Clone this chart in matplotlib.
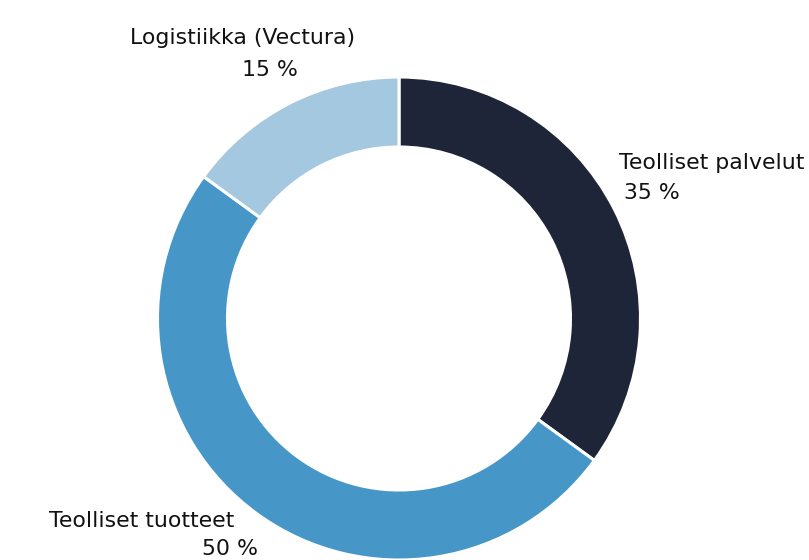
import matplotlib
matplotlib.use("Agg")
import matplotlib.pyplot as plt

categories = ["Teolliset palvelut", "Teolliset tuotteet", "Logistiikka (Vectura)"]
shares = [35, 50, 15]
share_labels = ["35 %", "50 %", "15 %"]
colors = ["#1f2539", "#4796c8", "#a3c8e0"]

plt.rcParams['font.family'] = ['DejaVu Sans']

fig = plt.figure(figsize=(8.09, 5.6), dpi=100)
ax = fig.add_axes([0, 0, 1, 1])

cx, cy = 399, 241.5
R = 241.5
wedges, _ = ax.pie(shares, colors=colors, startangle=90, counterclock=False,
                   center=(cx, cy), radius=R, frame=True,
                   wedgeprops=dict(width=70, edgecolor='white', linewidth=2.2))
ax.set_xlim(0, 809)
ax.set_ylim(0, 560)
ax.set_aspect('auto')
ax.axis('off')

fs = 15.8
tc = '#111111'
# Teolliset palvelut
ax.text(619, 560 - 163, categories[0], fontsize=fs, color=tc, ha='left', va='center')
ax.text(624, 560 - 193, share_labels[0], fontsize=fs, color=tc, ha='left', va='center')
# Teolliset tuotteet
ax.text(234, 560 - 521, categories[1], fontsize=fs, color=tc, ha='right', va='center')
ax.text(258, 560 - 549, share_labels[1], fontsize=fs, color=tc, ha='right', va='center')
# Logistiikka
ax.text(243, 560 - 38, categories[2], fontsize=fs, color=tc, ha='center', va='center')
ax.text(270, 560 - 70, share_labels[2], fontsize=fs, color=tc, ha='center', va='center')

fig.savefig('out.png', dpi=100)
